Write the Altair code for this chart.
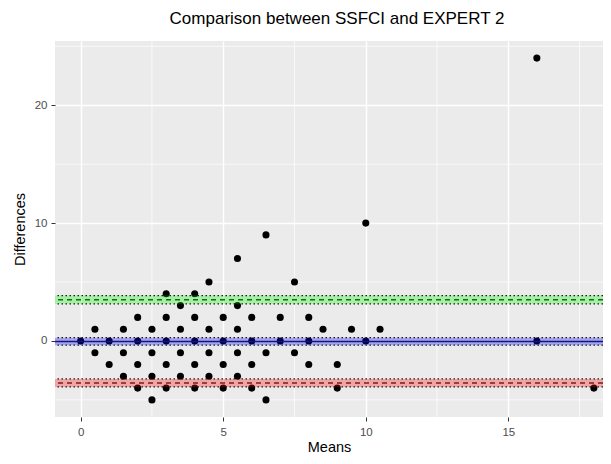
import altair as alt
import pandas as pd

# ---- data ----
mean_x = [0,
          0.5, 0.5,
          1, 1,
          1.5, 1.5, 1.5,
          2, 2, 2, 2,
          2.5, 2.5, 2.5, 2.5,
          3, 3, 3, 3, 3,
          3.5, 3.5, 3.5, 3.5,
          4, 4, 4, 4, 4,
          4.5, 4.5, 4.5, 4.5,
          5, 5, 5, 5,
          5.5, 5.5, 5.5, 5.5, 5.5,
          6, 6, 6, 6,
          6.5, 6.5, 6.5,
          7, 7,
          7.5, 7.5,
          8, 8, 8,
          8.5,
          9, 9,
          9.5,
          10, 10,
          10.5,
          16, 16,
          18]
diff_y = [0,
          1, -1,
          0, -2,
          1, -1, -3,
          2, 0, -2, -4,
          1, -1, -3, -5,
          4, 2, 0, -2, -4,
          3, 1, -1, -3,
          4, 2, 0, -2, -4,
          5, 1, -1, -3,
          2, 0, -2, -4,
          7, 3, 1, -1, -3,
          2, 0, -2, -4,
          9, -1, -5,
          2, 0,
          5, -1,
          2, 0, -2,
          1,
          -2, -4,
          1,
          10, 0,
          1,
          24, 0,
          -4]

x_major = [0, 5, 10, 15]
x_minor = [2.5, 7.5, 12.5, 17.5]
y_major = [0, 10, 20]
y_minor = [-5, 5, 15, 25]

band_names = ["upper", "mean", "lower"]
band_lo = [3.15, -0.36, -3.90]
band_hi = [3.85, 0.28, -3.22]
band_mid = [3.50, -0.04, -3.57]
band_fill = ["#00FF00", "#0000FF", "#FF0000"]
band_line = ["#1E641E", "#14147A", "#7A1E1E"]

W, H = 548, 376
FONT = "Liberation Sans"

points = pd.DataFrame({"Means": mean_x, "Differences": diff_y})
bands = pd.DataFrame({"name": band_names, "lo": band_lo, "hi": band_hi,
                      "mid": band_mid, "fill": band_fill, "line": band_line})
ci = pd.DataFrame({"v": band_lo + band_hi})
loa = bands[bands["name"] != "mean"]
mean_df = bands[bands["name"] == "mean"]

xscale = alt.Scale(domain=[-0.9, 18.32], nice=False, zero=False)
yscale = alt.Scale(domain=[-6.45, 25.45], nice=False, zero=False)

common_axis = dict(grid=True, gridColor="white", gridWidth=1.4,
                   ticks=True, tickColor="#333333", tickSize=4, tickWidth=1,
                   domain=False, labelColor="#4D4D4D", labelFontSize=11.5,
                   labelFont=FONT, titleFont=FONT, titleFontSize=14.5,
                   titleColor="black", titleFontWeight="normal",
                   labelFlush=False, format="d")

xaxis = alt.Axis(values=x_major, title="Means", labelPadding=5,
                 titlePadding=3, **common_axis)
yaxis = alt.Axis(values=y_major, title="Differences", labelPadding=4,
                 titlePadding=7, **common_axis)


def X(field):
    return alt.X(field, scale=xscale, axis=xaxis)


def Y(field):
    return alt.Y(field, scale=yscale, axis=yaxis)


minor_x = alt.Chart(pd.DataFrame({"v": x_minor})).mark_rule(
    color="white", strokeWidth=0.7).encode(x=X("v:Q"))
minor_y = alt.Chart(pd.DataFrame({"v": y_minor})).mark_rule(
    color="white", strokeWidth=0.7).encode(y=Y("v:Q"))

pts = alt.Chart(points).mark_circle(color="black", opacity=1, size=50).encode(
    x=X("Means:Q"), y=Y("Differences:Q"))

rects = alt.Chart(bands).mark_rect(opacity=0.3).encode(
    y=Y("lo:Q"), y2="hi:Q",
    x=alt.value(0), x2=alt.value(W),
    color=alt.Color("fill:N", scale=None))

ci_lines = alt.Chart(ci).mark_rule(
    color="#1a1a1a", strokeWidth=1.3, strokeDash=[1.5, 2.5]).encode(y=Y("v:Q"))

loa_lines = alt.Chart(loa).mark_rule(strokeWidth=1.5, strokeDash=[5, 4]).encode(
    y=Y("mid:Q"), color=alt.Color("line:N", scale=None))

mean_line = alt.Chart(mean_df).mark_rule(strokeWidth=1.6).encode(
    y=Y("mid:Q"), color=alt.Color("line:N", scale=None))

chart = alt.layer(minor_x, minor_y, pts, rects, ci_lines, loa_lines, mean_line).properties(
    width=W, height=H,
    title=alt.TitleParams("Comparison between SSFCI and EXPERT 2",
                          fontSize=17, font=FONT, fontWeight="normal",
                          color="black", anchor="middle", offset=13, dx=8),
    autosize=alt.AutoSizeParams(type="none"),
    padding={"left": 47, "top": 33, "right": 0, "bottom": 39},
).configure(
    background="white",
    view=alt.ViewConfig(fill="#EBEBEB", strokeWidth=0),
)

chart.save("out.html", embed_options={"renderer": "svg", "actions": False})
